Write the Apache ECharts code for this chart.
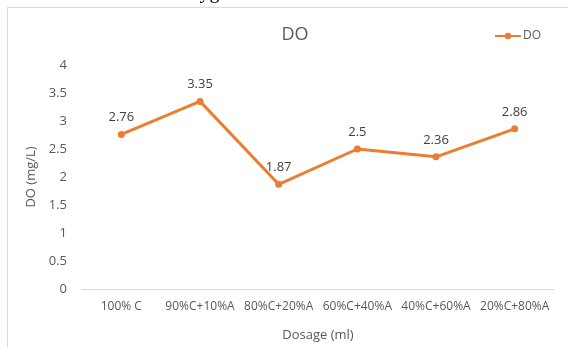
<!DOCTYPE html>
<html>
<head>
<meta charset="utf-8">
<script src="https://cdn.jsdelivr.net/npm/echarts@6/dist/echarts.min.js"></script>
<style>
  html, body { margin: 0; padding: 0; background: #fff; }
  #chart { width: 568px; height: 347px; }
</style>
</head>
<body>
<div id="chart"></div>
<script>
// Dissolved oxygen for each dosage mix
const categories = ['100% C', '90%C+10%A', '80%C+20%A', '60%C+40%A', '40%C+60%A', '20%C+80%A'];
const doValues = [2.76, 3.35, 1.87, 2.5, 2.36, 2.86];
const yTicks = { min: 0, max: 4, step: 0.5 };

const FONT = '"Open Sans", sans-serif';
const ORANGE = '#ED7D31';
const GREY = '#595959';

const chart = echarts.init(document.getElementById('chart'), null, { renderer: 'canvas' });

chart.setOption({
  backgroundColor: '#fff',
  animation: false,
  textStyle: { fontFamily: FONT },
  graphic: [
    // frame around the chart area
    {
      type: 'rect',
      shape: { x: 7.5, y: 7.5, width: 600, height: 400 },
      style: { fill: '#fff', stroke: '#d9d9d9', lineWidth: 1 },
      z: -10
    },
    // caption line of the surrounding page, clipped by the top edge
    {
      type: 'text',
      left: 10, top: -17,
      style: { text: 'C.', font: '20px "Liberation Serif", serif', fill: '#000' },
      z: -5
    },
    {
      type: 'text',
      left: 90, top: -17,
      style: { text: 'Dissolved Oxygen', font: '20px "Liberation Serif", serif', fill: '#000' },
      z: -5
    }
  ],
  title: {
    text: 'DO',
    left: 290, top: 21,
    textAlign: 'center',
    textStyle: { color: GREY, fontSize: 18, fontWeight: 'normal', fontFamily: FONT }
  },
  legend: {
    data: ['DO'],
    right: 22, top: 25,
    itemWidth: 26, itemHeight: 8, itemGap: 4,
    textStyle: { color: GREY, fontSize: 12, fontFamily: FONT, padding: [0, 0, 0, -3] }
  },
  grid: { left: 82, right: 14, top: 65, bottom: 55, containLabel: false },
  xAxis: {
    type: 'category',
    data: categories,
    boundaryGap: true,
    name: 'Dosage (ml)',
    nameLocation: 'middle',
    nameGap: 40,
    nameTextStyle: { color: GREY, fontSize: 13, fontFamily: FONT },
    axisLine: { lineStyle: { color: '#d9d9d9', width: 1 } },
    axisTick: { show: false },
    axisLabel: { color: GREY, fontSize: 12, fontFamily: FONT, interval: 0, margin: 12 }
  },
  yAxis: {
    type: 'value',
    min: yTicks.min, max: yTicks.max, interval: yTicks.step,
    name: 'DO (mg/L)',
    nameLocation: 'middle',
    nameRotate: 90,
    nameGap: 40,
    nameTextStyle: { color: GREY, fontSize: 13, fontFamily: FONT },
    axisLine: { show: false },
    axisTick: { show: false },
    splitLine: { show: false },
    axisLabel: { color: GREY, fontSize: 13, fontFamily: FONT, margin: 15 }
  },
  series: [{
    name: 'DO',
    type: 'line',
    data: doValues,
    symbol: 'circle',
    symbolSize: 7,
    lineStyle: { color: ORANGE, width: 3 },
    itemStyle: { color: ORANGE },
    label: {
      show: true,
      position: 'top',
      distance: 7,
      color: '#404040',
      fontSize: 13,
      fontFamily: FONT
    }
  }]
});
</script>
</body>
</html>
